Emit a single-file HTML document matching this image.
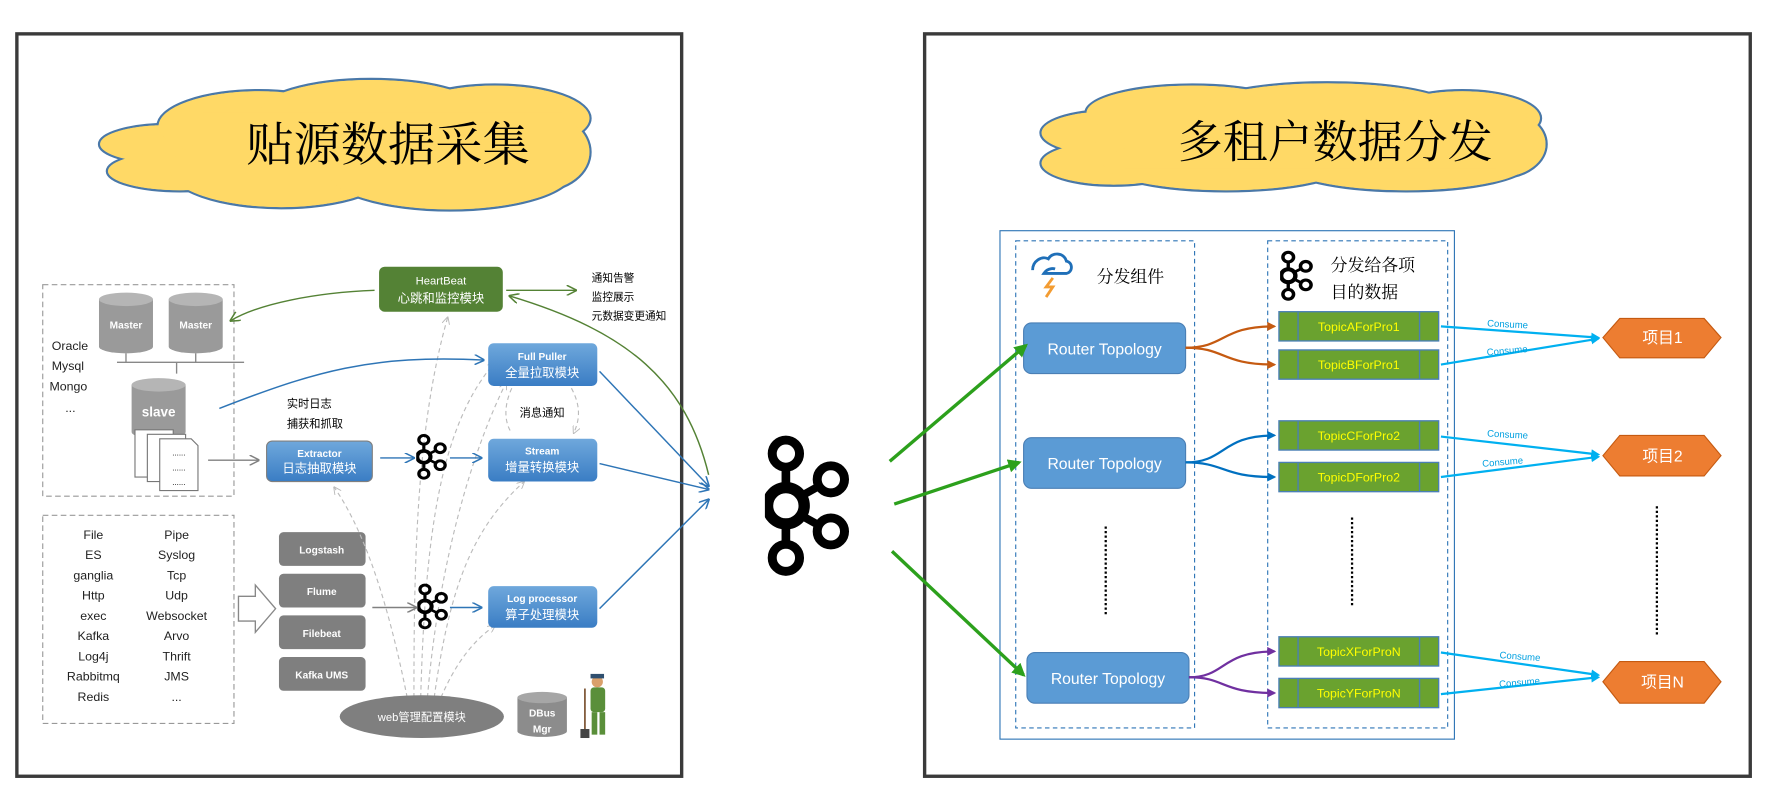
<!DOCTYPE html>
<html><head><meta charset="utf-8"><style>
html,body{margin:0;padding:0;background:#fff;}
svg{display:block;}
text{font-family:"Liberation Sans","Noto Sans CJK SC",sans-serif;}
.ser{font-family:"Liberation Serif","Noto Serif CJK SC",serif;}
</style></head><body>
<svg width="1766" height="800" viewBox="0 0 1570 711" xmlns="http://www.w3.org/2000/svg">
<defs>
<symbol id="kf" viewBox="320 110 260 440" preserveAspectRatio="none">
<g fill="none" stroke="#000">
<line x1="383" y1="210" x2="383" y2="290" stroke-width="26"/>
<line x1="383" y1="370" x2="383" y2="450" stroke-width="26"/>
<line x1="430" y1="300" x2="480" y2="272" stroke-width="24"/>
<line x1="430" y1="360" x2="480" y2="388" stroke-width="24"/>
<circle cx="383" cy="172" r="41" stroke-width="27"/>
<circle cx="383" cy="330" r="55" stroke-width="34"/>
<circle cx="518" cy="250" r="41" stroke-width="27"/>
<circle cx="518" cy="408" r="41" stroke-width="27"/>
<circle cx="383" cy="488" r="41" stroke-width="27"/>
</g></symbol>
<linearGradient id="bl" x1="0" y1="0" x2="0" y2="1"><stop offset="0" stop-color="#6FA8DC"/><stop offset="1" stop-color="#3A7DC4"/></linearGradient>
<marker id="ab" viewBox="0 0 10 10" refX="9" refY="5" markerWidth="7" markerHeight="7" orient="auto"><path d="M0,0 L10,5 L0,10" fill="none" stroke="#2E75B6" stroke-width="1.5"/></marker>
<marker id="ag" viewBox="0 0 10 10" refX="9" refY="5" markerWidth="7" markerHeight="7" orient="auto"><path d="M0,0 L10,5 L0,10" fill="none" stroke="#548235" stroke-width="1.5"/></marker>
<marker id="agr" viewBox="0 0 10 10" refX="9" refY="5" markerWidth="7" markerHeight="7" orient="auto"><path d="M0,0 L10,5 L0,10" fill="none" stroke="#808080" stroke-width="1.5"/></marker>
<marker id="ald" viewBox="0 0 10 10" refX="9" refY="5" markerWidth="7" markerHeight="7" orient="auto"><path d="M0,0 L10,5 L0,10" fill="none" stroke="#BBB" stroke-width="1.2"/></marker>
<marker id="agn" viewBox="0 0 10 10" refX="8" refY="5" markerWidth="4" markerHeight="4" orient="auto"><path d="M0,0 L10,5 L0,10z" fill="#2CA01C"/></marker>
<marker id="aor" viewBox="0 0 10 10" refX="8" refY="5" markerWidth="4" markerHeight="4" orient="auto"><path d="M0,0 L10,5 L0,10z" fill="#C55A11"/></marker>
<marker id="abu" viewBox="0 0 10 10" refX="8" refY="5" markerWidth="4" markerHeight="4" orient="auto"><path d="M0,0 L10,5 L0,10z" fill="#0070C0"/></marker>
<marker id="apu" viewBox="0 0 10 10" refX="8" refY="5" markerWidth="4" markerHeight="4" orient="auto"><path d="M0,0 L10,5 L0,10z" fill="#7030A0"/></marker>
<marker id="acy" viewBox="0 0 10 10" refX="8" refY="5" markerWidth="4" markerHeight="4" orient="auto"><path d="M0,0 L10,5 L0,10z" fill="#00B0F0"/></marker>
</defs>

<!-- frames -->
<rect x="15" y="30" width="591" height="660" fill="none" stroke="#3A3A3A" stroke-width="3"/>
<rect x="822" y="30" width="734" height="660" fill="none" stroke="#3A3A3A" stroke-width="3"/>

<!-- left cloud -->
<g stroke="#4A78A8" stroke-width="2" fill="#FFD966">
<ellipse cx="150" cy="128" rx="62" ry="18"/><ellipse cx="160" cy="152" rx="65" ry="18"/>
<ellipse cx="230" cy="112" rx="90" ry="32"/><ellipse cx="330" cy="100" rx="100" ry="30"/>
<ellipse cx="440" cy="105" rx="85" ry="30"/><ellipse cx="250" cy="150" rx="100" ry="35"/>
<ellipse cx="400" cy="152" rx="110" ry="35"/><ellipse cx="480" cy="135" rx="45" ry="35"/>
</g>
<g fill="#FFD966">
<ellipse cx="150" cy="128" rx="61" ry="17"/><ellipse cx="160" cy="152" rx="64" ry="17"/>
<ellipse cx="230" cy="112" rx="89" ry="31"/><ellipse cx="330" cy="100" rx="99" ry="29"/>
<ellipse cx="440" cy="105" rx="84" ry="29"/><ellipse cx="250" cy="150" rx="99" ry="34"/>
<ellipse cx="400" cy="152" rx="109" ry="34"/><ellipse cx="480" cy="135" rx="44" ry="34"/>
<rect x="180" y="100" width="320" height="60"/>
</g>
<text x="345" y="143" font-size="42" text-anchor="middle" class="ser">贴源数据采集</text>

<!-- right cloud -->
<g stroke="#4A78A8" stroke-width="2" fill="#FFD966">
<ellipse cx="985" cy="118" rx="60" ry="20"/><ellipse cx="990" cy="145" rx="65" ry="20"/>
<ellipse cx="1060" cy="100" rx="95" ry="25"/><ellipse cx="1180" cy="95" rx="110" ry="22"/>
<ellipse cx="1300" cy="105" rx="70" ry="25"/><ellipse cx="1090" cy="145" rx="110" ry="25"/>
<ellipse cx="1250" cy="145" rx="110" ry="25"/><ellipse cx="1335" cy="128" rx="40" ry="30"/>
</g>
<g fill="#FFD966">
<ellipse cx="985" cy="118" rx="59" ry="19"/><ellipse cx="990" cy="145" rx="64" ry="19"/>
<ellipse cx="1060" cy="100" rx="94" ry="24"/><ellipse cx="1180" cy="95" rx="109" ry="21"/>
<ellipse cx="1300" cy="105" rx="69" ry="24"/><ellipse cx="1090" cy="145" rx="109" ry="24"/>
<ellipse cx="1250" cy="145" rx="109" ry="24"/><ellipse cx="1335" cy="128" rx="39" ry="29"/>
<rect x="1000" y="95" width="330" height="55"/>
</g>
<text x="1187" y="140" font-size="40" text-anchor="middle" class="ser">多租户数据分发</text>

<!-- left dashed boxes -->
<rect x="38" y="253" width="170" height="188" fill="none" stroke="#999" stroke-dasharray="5,3"/>
<rect x="38" y="458" width="170" height="185" fill="none" stroke="#999" stroke-dasharray="5,3"/>

<!-- master cylinders -->
<g>
<path d="M88,266 v42 a24,6 0 0 0 48,0 v-42z" fill="#9A9A9A"/><ellipse cx="112" cy="266" rx="24" ry="6" fill="#B5B5B5"/>
<text x="112" y="292" font-size="9" fill="#fff" font-weight="bold" text-anchor="middle">Master</text>
<path d="M150,266 v42 a24,6 0 0 0 48,0 v-42z" fill="#9A9A9A"/><ellipse cx="174" cy="266" rx="24" ry="6" fill="#B5B5B5"/>
<text x="174" y="292" font-size="9" fill="#fff" font-weight="bold" text-anchor="middle">Master</text>
<path d="M112,314 v8 M174,314 v8 M104,322 H217 M157,322 v10" stroke="#888" stroke-width="1.2"/>
<path d="M117,342 v42 a24,6 0 0 0 48,0 v-42z" fill="#9A9A9A"/><ellipse cx="141" cy="342" rx="24" ry="6" fill="#B5B5B5"/>
<text x="141" y="370" font-size="12" fill="#fff" font-weight="bold" text-anchor="middle">slave</text>
<rect x="120" y="382" width="34" height="42" fill="#fff" stroke="#777"/>
<rect x="131" y="386" width="34" height="42" fill="#fff" stroke="#777"/>
<path d="M142,390 h28 l6,6 v40 h-34z" fill="#fff" stroke="#777"/>
<text x="159" y="405" font-size="7" text-anchor="middle">......</text>
<text x="159" y="418" font-size="7" text-anchor="middle">......</text>
<text x="159" y="431" font-size="7" text-anchor="middle">......</text>
</g>
<g font-size="11" fill="#222">
<text x="46" y="311">Oracle</text><text x="46" y="329">Mysql</text><text x="44" y="347">Mongo</text><text x="58" y="366">...</text>
</g>
<g font-size="11" fill="#222" text-anchor="middle">
<text x="83" y="479">File</text><text x="83" y="497">ES</text><text x="83" y="515">ganglia</text><text x="83" y="533">Http</text><text x="83" y="551">exec</text><text x="83" y="569">Kafka</text><text x="83" y="587">Log4j</text><text x="83" y="605">Rabbitmq</text><text x="83" y="623">Redis</text>
<text x="157" y="479">Pipe</text><text x="157" y="497">Syslog</text><text x="157" y="515">Tcp</text><text x="157" y="533">Udp</text><text x="157" y="551">Websocket</text><text x="157" y="569">Arvo</text><text x="157" y="587">Thrift</text><text x="157" y="605">JMS</text><text x="157" y="623">...</text>
</g>

<!-- hollow arrow -->
<path d="M212,530 h15 v-10 l18,21 l-18,21 v-10 h-15z" fill="#fff" stroke="#888" stroke-width="1.2"/>

<!-- gray boxes -->
<g font-size="9" font-weight="bold" fill="#fff" text-anchor="middle">
<rect x="248" y="473" width="77" height="30" rx="4" fill="#7F7F7F"/><text x="286" y="492">Logstash</text>
<rect x="248" y="510" width="77" height="30" rx="4" fill="#7F7F7F"/><text x="286" y="529">Flume</text>
<rect x="248" y="547" width="77" height="30" rx="4" fill="#7F7F7F"/><text x="286" y="566">Filebeat</text>
<rect x="248" y="584" width="77" height="30" rx="4" fill="#7F7F7F"/><text x="286" y="603">Kafka UMS</text>
</g>

<!-- dashed gray curves from web ellipse -->
<g fill="none" stroke="#BBB" stroke-dasharray="4,3" stroke-width="1" marker-end="url(#ald)">
<path d="M362,620 C350,560 330,480 297,433"/>
<path d="M368,620 C368,500 370,380 398,282"/>
<path d="M374,620 C378,480 390,380 440,322"/>
<path d="M380,620 C390,500 420,400 450,340"/>
<path d="M386,620 C400,520 420,470 466,428"/>
<path d="M392,620 C405,590 420,570 440,556"/>
</g>
<path d="M455,345 C448,360 448,375 455,385" fill="none" stroke="#BBB" stroke-dasharray="4,3"/>
<path d="M508,345 C516,360 516,372 510,385" fill="none" stroke="#BBB" stroke-dasharray="4,3" marker-end="url(#ald)"/>

<!-- web ellipse -->
<ellipse cx="375" cy="637" rx="73" ry="19" fill="#7F7F7F"/>
<text x="375" y="641" font-size="10" fill="#fff" text-anchor="middle">web管理配置模块</text>
<path d="M460,620 v30 a22,5 0 0 0 44,0 v-30z" fill="#8C8C8C"/><ellipse cx="482" cy="620" rx="22" ry="5" fill="#A6A6A6"/>
<text x="482" y="637" font-size="9" fill="#fff" font-weight="bold" text-anchor="middle">DBus</text>
<text x="482" y="651" font-size="9" fill="#fff" font-weight="bold" text-anchor="middle">Mgr</text>
<!-- person -->
<g>
<circle cx="531" cy="606" r="5" fill="#D9A06B"/><rect x="525" y="599" width="12" height="4" fill="#2F4F6F"/>
<rect x="525" y="611" width="13" height="22" rx="3" fill="#5A8F3A"/>
<rect x="526" y="633" width="5" height="20" fill="#5A8F3A"/><rect x="533" y="633" width="5" height="20" fill="#5A8F3A"/>
<line x1="520" y1="612" x2="520" y2="650" stroke="#7A5230" stroke-width="1.5"/><rect x="516" y="648" width="8" height="8" fill="#444"/>
</g>

<!-- Extractor etc -->
<text x="255" y="362" font-size="10">实时日志</text>
<text x="255" y="380" font-size="10">捕获和抓取</text>
<text x="462" y="370" font-size="10">消息通知</text>
<g text-anchor="middle" fill="#fff">
<rect x="237" y="392" width="94" height="36" rx="5" fill="url(#bl)" stroke="#7F7F7F"/>
<text x="284" y="406" font-size="9" font-weight="bold">Extractor</text><text x="284" y="420" font-size="11">日志抽取模块</text>
<rect x="434" y="305" width="97" height="38" rx="5" fill="url(#bl)"/>
<text x="482" y="320" font-size="9" font-weight="bold">Full Puller</text><text x="482" y="335" font-size="11">全量拉取模块</text>
<rect x="434" y="390" width="97" height="38" rx="5" fill="url(#bl)"/>
<text x="482" y="404" font-size="9" font-weight="bold">Stream</text><text x="482" y="419" font-size="11">增量转换模块</text>
<rect x="434" y="521" width="97" height="37" rx="5" fill="url(#bl)"/>
<text x="482" y="535" font-size="9" font-weight="bold">Log processor</text><text x="482" y="550" font-size="11">算子处理模块</text>
<rect x="337" y="237" width="110" height="40" rx="5" fill="#548235"/>
<text x="392" y="253" font-size="10">HeartBeat</text><text x="392" y="269" font-size="11">心跳和监控模块</text>
</g>
<g font-size="9.5"><text x="526" y="250">通知告警</text><text x="526" y="267">监控展示</text><text x="526" y="284">元数据变更通知</text></g>

<use href="#kf" x="370" y="385" width="28" height="42"/>
<use href="#kf" x="371" y="518" width="28" height="42"/>

<!-- left arrows -->
<path d="M185,409 H230" stroke="#808080" stroke-width="1.3" marker-end="url(#agr)"/>
<path d="M331,540 H370" stroke="#808080" stroke-width="1.3" marker-end="url(#agr)"/>
<g stroke="#2E75B6" stroke-width="1.3" fill="none" marker-end="url(#ab)">
<path d="M338,407 H368"/><path d="M400,407 H428"/><path d="M400,540 H428"/>
<path d="M195,363 C280,330 330,315 430,320"/>
<path d="M533,330 L630,432"/><path d="M533,412 L630,435"/><path d="M533,541 L630,444"/>
</g>
<g stroke="#548235" stroke-width="1.3" fill="none" marker-end="url(#ag)">
<path d="M333,258 C280,260 230,270 205,285"/>
<path d="M450,258 H512"/>
<path d="M630,422 C610,340 560,295 453,263"/>
</g>

<!-- big kafka -->
<use href="#kf" x="680" y="385" width="77" height="129"/>

<!-- right side -->
<rect x="889" y="205" width="404" height="452" fill="none" stroke="#2E75B6" stroke-width="1"/>
<rect x="903" y="214" width="159" height="433" fill="none" stroke="#2E75B6" stroke-dasharray="4,3"/>
<rect x="1127" y="214" width="160" height="433" fill="none" stroke="#2E75B6" stroke-dasharray="4,3"/>
<!-- storm icon -->
<path d="M918,240 c0,-8 8,-13 14,-10 c3,-6 14,-6 16,2 c6,1 6,10 0,11 h-20 c4,-6 10,-4 10,-4" fill="none" stroke="#1F6FB8" stroke-width="2.5"/>
<path d="M936,247 l-6,8 h6 l-6,9" fill="none" stroke="#F39C32" stroke-width="2.5"/>
<text x="975" y="251" font-size="15" class="ser">分发组件</text>
<use href="#kf" x="1138" y="222" width="30" height="46"/>
<text x="1183" y="241" font-size="15" class="ser">分发给各项</text>
<text x="1183" y="265" font-size="15" class="ser">目的数据</text>

<g fill="#5B9BD5" stroke="#4A7FB5">
<rect x="910" y="287" width="144" height="45" rx="7"/><rect x="910" y="389" width="144" height="45" rx="7"/><rect x="913" y="580" width="144" height="45" rx="7"/>
</g>
<g fill="#fff" font-size="14" text-anchor="middle">
<text x="982" y="315">Router Topology</text><text x="982" y="417">Router Topology</text><text x="985" y="608">Router Topology</text>
</g>

<g stroke="#4A7FB5" fill="#6AA22F" stroke-width="1.2">
<rect x="1137" y="277" width="142" height="26"/><rect x="1137" y="311" width="142" height="26"/>
<rect x="1137" y="374" width="142" height="26"/><rect x="1137" y="411" width="142" height="26"/>
<rect x="1137" y="566" width="142" height="26"/><rect x="1137" y="603" width="142" height="26"/>
<path d="M1154,277 v26 M1262,277 v26 M1154,311 v26 M1262,311 v26 M1154,374 v26 M1262,374 v26 M1154,411 v26 M1262,411 v26 M1154,566 v26 M1262,566 v26 M1154,603 v26 M1262,603 v26"/>
</g>
<g fill="#FFFF00" font-size="11" text-anchor="middle">
<text x="1208" y="294">TopicAForPro1</text><text x="1208" y="328">TopicBForPro1</text>
<text x="1208" y="391">TopicCForPro2</text><text x="1208" y="428">TopicDForPro2</text>
<text x="1208" y="583">TopicXForProN</text><text x="1208" y="620">TopicYForProN</text>
</g>

<!-- branch arrows -->
<g fill="none" stroke-width="2">
<path d="M1054,309 C1090,309 1085,290 1133,290" stroke="#C55A11" marker-end="url(#aor)"/>
<path d="M1054,309 C1090,309 1085,324 1133,324" stroke="#C55A11" marker-end="url(#aor)"/>
<path d="M1054,411 C1090,411 1085,387 1133,387" stroke="#0070C0" marker-end="url(#abu)"/>
<path d="M1054,411 C1090,411 1085,424 1133,424" stroke="#0070C0" marker-end="url(#abu)"/>
<path d="M1057,602 C1090,602 1085,579 1133,579" stroke="#7030A0" marker-end="url(#apu)"/>
<path d="M1057,602 C1090,602 1085,616 1133,616" stroke="#7030A0" marker-end="url(#apu)"/>
</g>
<!-- green arrows -->
<g stroke="#2CA01C" stroke-width="3" fill="none" marker-end="url(#agn)">
<path d="M791,410 L912,307"/><path d="M795,448 L906,411"/><path d="M793,490 L910,600"/>
</g>
<!-- dotted verticals -->
<g stroke="#000" stroke-width="2" stroke-dasharray="2,2">
<path d="M983,468 V548"/><path d="M1202,460 V538"/><path d="M1473,450 V565"/>
</g>
<!-- hexagons -->
<g fill="#ED7D31" stroke="#C55A11">
<path d="M1425,300 L1440,283 H1515 L1530,300 L1515,318 H1440z"/>
<path d="M1425,405 L1440,387 H1515 L1530,405 L1515,423 H1440z"/>
<path d="M1425,606 L1440,588 H1515 L1530,606 L1515,625 H1440z"/>
</g>
<g fill="#fff" font-size="14" text-anchor="middle">
<text x="1478" y="305">项目1</text><text x="1478" y="410">项目2</text><text x="1478" y="611">项目N</text>
</g>
<!-- consume lines -->
<g stroke="#00B0F0" stroke-width="2" fill="none" marker-end="url(#acy)">
<path d="M1281,290 L1421,300"/><path d="M1281,324 L1421,301"/>
<path d="M1281,388 L1421,404"/><path d="M1281,424 L1421,406"/>
<path d="M1281,580 L1421,600"/><path d="M1281,617 L1421,602"/>
</g>
<g fill="#00A0E0" font-size="8.5">
<text x="1322" y="290" transform="rotate(3 1322 290)">Consume</text>
<text x="1322" y="316" transform="rotate(-5 1322 316)">Consume</text>
<text x="1322" y="388" transform="rotate(3 1322 388)">Consume</text>
<text x="1318" y="415" transform="rotate(-5 1318 415)">Consume</text>
<text x="1333" y="585" transform="rotate(4 1333 585)">Consume</text>
<text x="1333" y="611" transform="rotate(-5 1333 611)">Consume</text>
</g>
</svg>
</body></html>
